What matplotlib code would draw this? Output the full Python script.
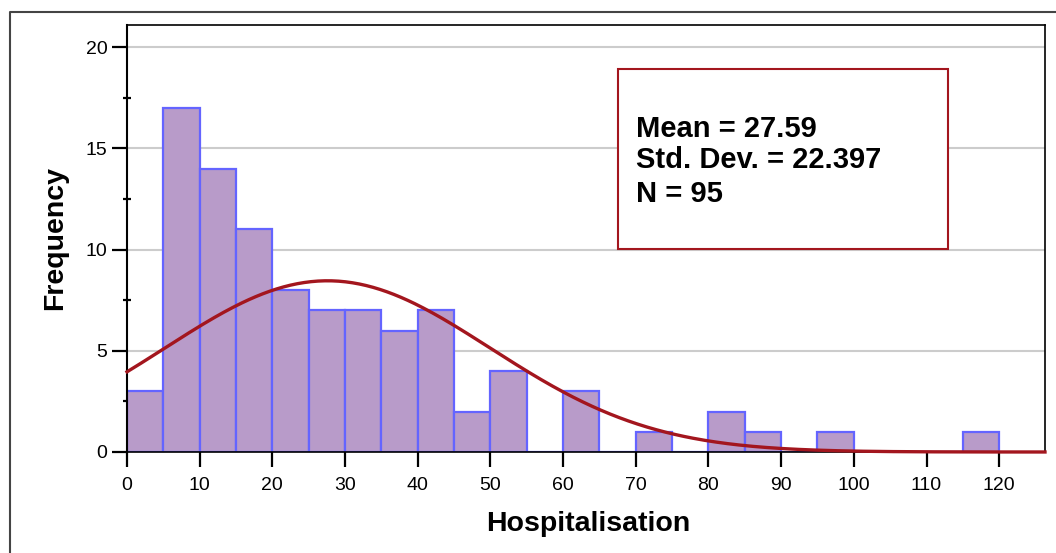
import numpy as np
import matplotlib
matplotlib.use("Agg")
import matplotlib.pyplot as plt
from matplotlib.patches import Rectangle
from matplotlib.lines import Line2D

plt.rcParams['font.family'] = ['Liberation Sans', 'DejaVu Sans']

# hospitalisation histogram, bins of width 5
bin_edges = list(range(0, 125, 5))
counts = [3, 17, 14, 11, 8, 7, 7, 6, 7, 2, 4, 0, 3, 0, 1, 0, 2, 1, 0, 1, 0, 0, 0, 1]
mean = 27.59
std_dev = 22.397
n_obs = 95
bin_width = 5

fig = plt.figure(figsize=(10.56, 5.53), dpi=100)
ax = fig.add_axes([127/1056, 101/553, 918/1056, 427/553])

# outer frame
fig.add_artist(Line2D([10/1056, 10/1056, 1.0], [0.0, 1 - 12/553, 1 - 12/553],
                      transform=fig.transFigure, color='#444444', lw=1.5))

ax.set_xlim(0, 126.3)
ax.set_ylim(0, 21.1)

for y in [5, 10, 15, 20]:
    ax.axhline(y, color='#cccccc', lw=1.5, zorder=0)

ax.bar(bin_edges[:-1], counts, width=bin_width, align='edge',
       color='#b89bc9', edgecolor='#6464ff', linewidth=1.6, zorder=2)

xs = np.linspace(0, 126.3, 400)
pdf = np.exp(-0.5 * ((xs - mean) / std_dev) ** 2) / (std_dev * np.sqrt(2 * np.pi))
ax.plot(xs, n_obs * bin_width * pdf, color='#a3161e', lw=2.4, zorder=3, clip_on=False)

for s in ax.spines.values():
    s.set_color('black')
    s.set_linewidth(1.2)
ax.spines['left'].set_linewidth(1.5)

ax.set_xticks(range(0, 121, 10))
ax.set_yticks([0, 5, 10, 15, 20])
ax.set_yticks([2.5, 7.5, 12.5, 17.5], minor=True)
ax.tick_params(axis='both', which='major', direction='out', length=11, width=1.6,
               labelsize=14, colors='black')
ax.tick_params(axis='x', pad=7)
ax.tick_params(axis='y', pad=3)
ax.tick_params(axis='y', which='minor', direction='inout', length=6, width=1.6)

ax.set_xlabel('Hospitalisation', fontsize=20.5, fontweight='bold')
ax.set_ylabel('Frequency', fontsize=20.5, fontweight='bold')
ax.xaxis.set_label_coords(0.502, -0.138)
ax.yaxis.set_label_coords(-0.064, 0.5)

# summary statistics box
ax.add_patch(Rectangle((0.535, 0.475), 0.359, 0.422, transform=ax.transAxes,
                       facecolor='white', edgecolor='#a3161e', lw=1.5, zorder=5))
stats = ['Mean = %.2f' % mean, 'Std. Dev. = %.3f' % std_dev, 'N = %d' % n_obs]
for line, yb in zip(stats, [0.7377, 0.665, 0.5855]):
    ax.text(0.5545, yb, line, transform=ax.transAxes, fontsize=21,
            fontweight='bold', va='baseline', ha='left', zorder=6)

fig.savefig('out.png', dpi=100)
